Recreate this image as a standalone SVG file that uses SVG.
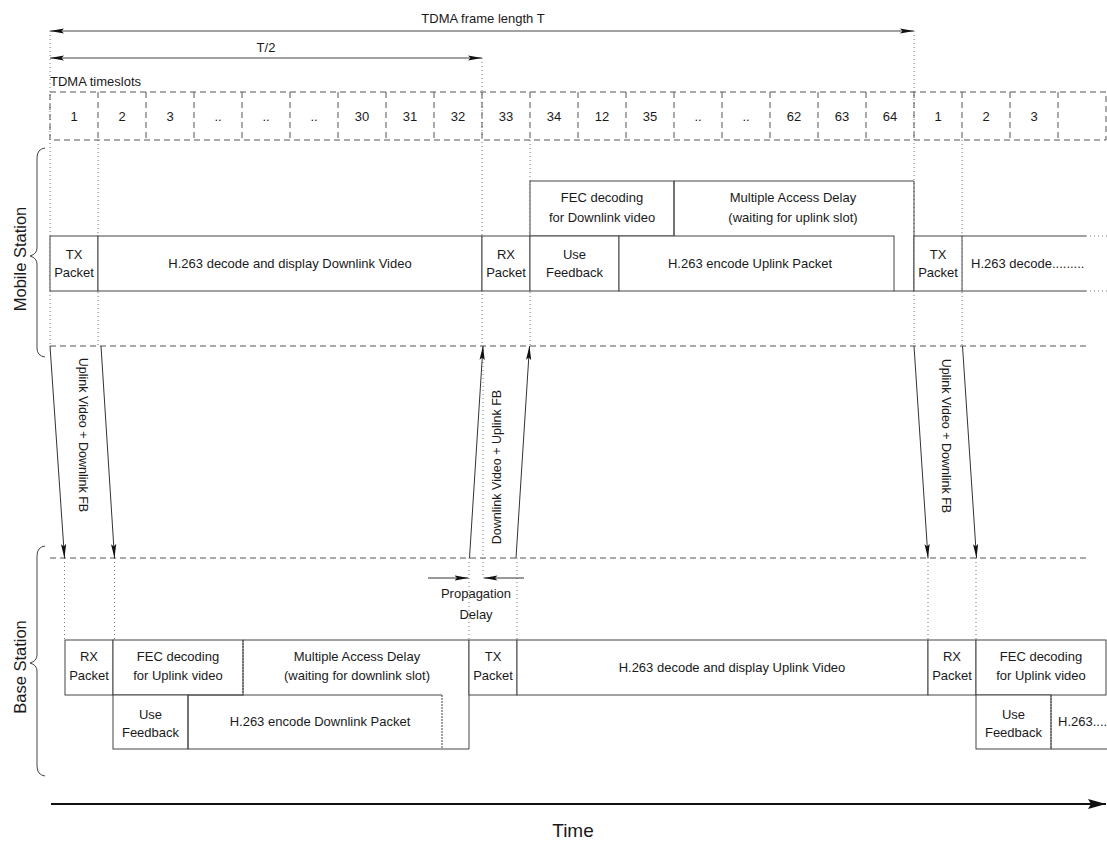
<svg xmlns="http://www.w3.org/2000/svg" width="1107" height="842" viewBox="0 0 1107 842">
<defs>
<style>
.t{font-family:"Liberation Sans",Arial,sans-serif;font-size:13px;fill:#1a1a1a;text-anchor:middle}
.ts{font-family:"Liberation Sans",Arial,sans-serif;font-size:13px;fill:#1a1a1a;text-anchor:start}
.big{font-family:"Liberation Sans",Arial,sans-serif;font-size:16.5px;fill:#1a1a1a;text-anchor:middle}
.box{fill:#fff;stroke:#444;stroke-width:1}
.ln{fill:none;stroke:#444;stroke-width:1}
.fine{fill:none;stroke:#444;stroke-width:1;stroke-dasharray:2 1}
.dot{fill:none;stroke:#777;stroke-width:1;stroke-dasharray:1 3}
.dash{fill:none;stroke:#555;stroke-width:1;stroke-dasharray:6 4}
.arr{fill:none;stroke:#333;stroke-width:1;marker-end:url(#ah)}
.dim{fill:none;stroke:#444;stroke-width:1;marker-start:url(#ah);marker-end:url(#ah)}
</style>
<marker id="ah" markerUnits="userSpaceOnUse" markerWidth="14" markerHeight="6" refX="14" refY="3" orient="auto-start-reverse" viewBox="0 0 14 6"><path d="M0,0.4 L14,3 L0,5.6 L2.5,3 z" fill="#111"/></marker>
<marker id="big" markerUnits="userSpaceOnUse" markerWidth="18" markerHeight="10" refX="18" refY="5" orient="auto" viewBox="0 0 18 10"><path d="M0,0 L18,5 L0,10 L3,5 z" fill="#111"/></marker>
</defs>
<rect width="1107" height="842" fill="#fff"/>

<g id="timing-header">
<text class="t" x="483" y="23">TDMA frame length T</text>
<path class="dim" d="M50,31 H914"/>
<text class="t" x="266" y="52">T/2</text>
<path class="dim" d="M50,58 H482"/>
<text class="ts" x="50" y="86">TDMA timeslots</text>
</g>

<g id="guides">
<path class="dot" d="M50,31 V346 M482,58 V346 M914,31 V346 M98,140 V346 M530,140 V346 M962,140 V346"/>
<path class="dot" d="M483,346 V578 M64.5,558 V640 M114.5,558 V640 M469,558 V640 M517,558 V640 M928,558 V640 M976,558 V640"/>
</g>

<g id="timeslots">
<rect class="dash" x="50" y="92" width="1056" height="48"/>
<path class="dash" d="M98,92V140M146,92V140M194,92V140M242,92V140M290,92V140M338,92V140M386,92V140M434,92V140M482,92V140M530,92V140M578,92V140M626,92V140M674,92V140M722,92V140M770,92V140M818,92V140M866,92V140M914,92V140M962,92V140M1010,92V140M1058,92V140"/>
<text class="t" x="74" y="121">1</text>
<text class="t" x="122" y="121">2</text>
<text class="t" x="170" y="121">3</text>
<text class="t" x="218" y="121">..</text>
<text class="t" x="266" y="121">..</text>
<text class="t" x="314" y="121">..</text>
<text class="t" x="362" y="121">30</text>
<text class="t" x="410" y="121">31</text>
<text class="t" x="458" y="121">32</text>
<text class="t" x="506" y="121">33</text>
<text class="t" x="554" y="121">34</text>
<text class="t" x="602" y="121">12</text>
<text class="t" x="650" y="121">35</text>
<text class="t" x="698" y="121">..</text>
<text class="t" x="746" y="121">..</text>
<text class="t" x="794" y="121">62</text>
<text class="t" x="842" y="121">63</text>
<text class="t" x="890" y="121">64</text>
<text class="t" x="938" y="121">1</text>
<text class="t" x="986" y="121">2</text>
<text class="t" x="1034" y="121">3</text>
</g>

<g id="lanes">
<path class="dash" d="M50,346 H1086"/>
<path class="dash" d="M50,558 H1088"/>
</g>

<g id="mobile-station-label">
<path class="ln" d="M45,148 Q37,149 37,158 L37,248 Q37,254 30,256 Q37,258 37,264 L37,348 Q37,356 45,357"/>
<text class="big" transform="translate(26,259) rotate(-90)">Mobile Station</text>
</g>

<g id="ms-tx1">
<rect class="box" x="50" y="236" width="48" height="55"/>
<text class="t" x="74" y="258.5">TX</text><text class="t" x="74" y="277">Packet</text>
</g>
<g id="ms-decode1">
<rect class="box" x="98" y="236" width="384" height="55"/>
<text class="t" x="290" y="268">H.263 decode and display Downlink Video</text>
</g>
<g id="ms-rx">
<rect class="box" x="482" y="236" width="48" height="55"/>
<text class="t" x="506" y="258.5">RX</text><text class="t" x="506" y="277">Packet</text>
</g>
<g id="ms-fec">
<rect class="box" x="530" y="181" width="144" height="55"/>
<text class="t" x="602" y="202">FEC decoding</text><text class="t" x="602" y="222">for Downlink video</text>
</g>
<g id="ms-mad">
<path class="ln" d="M674,236 V181 H914 V291 H894"/>
<text class="t" x="793" y="202">Multiple Access Delay</text><text class="t" x="793" y="222">(waiting for uplink slot)</text>
</g>
<g id="ms-usefb">
<rect class="box" x="530" y="236" width="89" height="55"/>
<text class="t" x="574.5" y="258.5">Use</text><text class="t" x="574.5" y="277">Feedback</text>
</g>
<g id="ms-encode">
<rect class="box" x="619" y="236" width="275" height="55"/>
<text class="t" x="750" y="268">H.263 encode Uplink Packet</text>
</g>
<g id="ms-tx2">
<rect class="box" x="914" y="236" width="48" height="55"/>
<text class="t" x="938" y="258.5">TX</text><text class="t" x="938" y="277">Packet</text>
</g>
<g id="ms-decode2">
<path class="ln" d="M962,236 H1086 M962,291 H1086"/>
<path class="dot" d="M1086,236 H1107 M1086,291 H1107"/>
<text class="ts" x="971" y="268">H.263 decode.........</text>
</g>

<g id="base-station-label">
<path class="ln" d="M45,546 Q37,547 37,556 L37,655 Q37,661 30,663 Q37,665 37,671 L37,766 Q37,775 45,776"/>
<text class="big" transform="translate(26,667) rotate(-90)">Base Station</text>
</g>

<g id="bs-rx1">
<rect class="box" x="65" y="640" width="48" height="55"/>
<text class="t" x="89" y="661">RX</text><text class="t" x="89" y="679.5">Packet</text>
</g>
<g id="bs-fec1">
<rect class="box" x="113" y="640" width="130" height="55"/>
<text class="t" x="178" y="661">FEC decoding</text><text class="t" x="178" y="679.5">for Uplink video</text>
</g>
<g id="bs-mad">
<path class="ln" d="M243,640 H469 V749 H442"/>
<path class="fine" d="M243,640 V695"/>
<text class="t" x="357" y="661">Multiple Access Delay</text><text class="t" x="357" y="679.5">(waiting for downlink slot)</text>
</g>
<g id="bs-usefb1">
<rect class="box" x="113" y="695" width="75" height="54"/>
<text class="t" x="150.5" y="719">Use</text><text class="t" x="150.5" y="736.5">Feedback</text>
</g>
<g id="bs-encode">
<path class="ln" d="M188,695 H442 M188,749 H442 M188,695 V749"/>
<path class="fine" d="M442,695 V749"/>
<text class="t" x="320" y="726">H.263 encode Downlink Packet</text>
</g>
<g id="bs-tx">
<rect class="box" x="469" y="640" width="48" height="55"/>
<text class="t" x="493" y="661">TX</text><text class="t" x="493" y="679.5">Packet</text>
</g>
<g id="bs-decode">
<rect class="box" x="517" y="640" width="411" height="55"/>
<text class="t" x="732" y="672">H.263 decode and display Uplink Video</text>
</g>
<g id="bs-rx2">
<rect class="box" x="928" y="640" width="48" height="55"/>
<text class="t" x="952" y="661">RX</text><text class="t" x="952" y="679.5">Packet</text>
</g>
<g id="bs-fec2">
<rect class="box" x="976" y="640" width="130" height="55"/>
<text class="t" x="1041" y="661">FEC decoding</text><text class="t" x="1041" y="679.5">for Uplink video</text>
</g>
<g id="bs-usefb2">
<rect class="box" x="976" y="695" width="75" height="54"/>
<text class="t" x="1013.5" y="719">Use</text><text class="t" x="1013.5" y="736.5">Feedback</text>
</g>
<g id="bs-encode2">
<path class="ln" d="M1051,749 H1107"/>
<path class="fine" d="M1051,695 V749"/>
<text class="ts" x="1058" y="726">H.263....</text>
</g>

<g id="connectors">
<path class="arr" d="M50,346 L64.5,558"/>
<path class="arr" d="M101,346 L114.5,558"/>
<text class="t" style="font-size:12.5px" transform="translate(83,435) rotate(90)" y="4.5">Uplink Video + Downlink FB</text>
<path class="arr" d="M469.5,558 L483,346"/>
<path class="arr" d="M516,558 L529.5,346"/>
<text class="t" style="font-size:12.5px" transform="translate(496,467) rotate(-90)" y="4.5">Downlink Video + Uplink FB</text>
<path class="arr" d="M914,346 L928,558"/>
<path class="arr" d="M962.5,346 L976.5,558"/>
<text class="t" style="font-size:12.5px" transform="translate(946,436) rotate(90)" y="4.5">Uplink Video + Downlink FB</text>
<path class="arr" d="M428,578 H468.5"/>
<path class="arr" d="M524,578 H483.5"/>
<text class="t" x="476" y="598">Propagation</text>
<text class="t" x="476" y="619">Delay</text>
</g>

<g id="time-axis">
<path d="M51,804 H1106" stroke="#111" stroke-width="2" fill="none" marker-end="url(#big)"/>
<text class="t" style="font-size:19px" x="573" y="837">Time</text>
</g>
</svg>
